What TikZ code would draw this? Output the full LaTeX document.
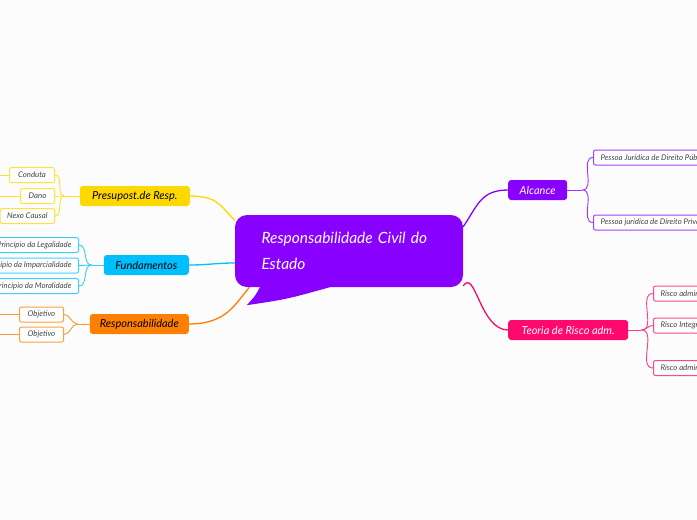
\documentclass[tikz,border=0pt]{standalone}
\usepackage{fontspec}
\setmainfont{Lato}
\usepackage{xcolor}
\usetikzlibrary{positioning}

\definecolor{cpurple}{HTML}{8800FF}
\definecolor{cyellow}{HTML}{FFD800}
\definecolor{cblue}{HTML}{00BFFF}
\definecolor{corange}{HTML}{FF7F00}
\definecolor{cpink}{HTML}{FF0A6C}
\definecolor{leaftext}{HTML}{444444}

\tikzset{every node/.style={font=\itshape}}

\begin{document}
\begin{tikzpicture}[
x=1pt, y=-1pt,
branch/.style={
fill=#1,
rounded corners=3pt,
minimum height=20pt,
inner sep=2pt,
font=\fontsize{11}{13}\selectfont\itshape
},
leaf/.style={
draw=#1!75,
fill=white,
line width=1pt,
rounded corners=2pt,
minimum height=15pt,
inner xsep=7pt,
inner ysep=1pt,
text=leaftext,
font=\fontsize{7.8}{9}\selectfont\itshape
},
link/.style={#1, line width=1.3pt},
twig/.style={#1!80, line width=0.9pt}
]

\useasboundingbox (0,0) rectangle (697,520);
\fill[white!99!black] (0,0) rectangle (697,520);
\clip (0,0) rectangle (697,520);

% central topic
\node[fill=cpurple, rounded corners=12pt, minimum width=228pt, minimum height=72pt,
text width=175pt, align=left, text=white, font=\fontsize{15.5}{26}\selectfont\itshape]
(central) at (349,251) {Responsabilidade Civil do\\Estado};
\fill[cpurple] ([xshift=25pt]central.south west)
.. controls +(-4,8) .. ([xshift=12pt,yshift=-18pt]central.south west)
.. controls +(40,-6) .. ([xshift=95pt]central.south west) -- cycle;

% left branches
\node[branch=cyellow, minimum width=110pt, anchor=east] (presup) at (190,196) {Presupost.de Resp.};
\node[branch=cblue, minimum width=85pt, anchor=east] (fund) at (189,265) {Fundamentos};
\node[branch=corange, minimum width=99pt, anchor=east] (resp) at (189,324) {Responsabilidade};

% right branches
\node[branch=cpurple, text=white, minimum width=59pt, anchor=west] (alc) at (508,190) {Alcance};
\node[branch=cpink, text=white, minimum width=120pt, anchor=west] (teoria) at (508,330) {Teoria de Risco adm.};

\draw[link=cyellow] (presup.east) .. controls +(28,0) and +(-14,-14) .. (central.165);
\draw[link=cblue] (fund.east) .. controls +(20,0) and +(-20,0) .. (central.186);
\draw[link=corange] (resp.east) .. controls +(38,0) and +(-14,16) .. (central.200);
\draw[link=cpurple] (alc.west) .. controls +(-28,0) and +(14,-20) .. (central.12);
\draw[link=cpink] (teoria.west) .. controls +(-28,0) and +(12,-18) .. (central.343);

% leaves of Presupost.de Resp.
\node[leaf=cyellow, minimum width=45pt, anchor=east] (conduta) at (55,175) {Conduta};
\node[leaf=cyellow, minimum width=34pt, anchor=east] (dano) at (55,196) {Dano};
\node[leaf=cyellow, anchor=east] (nexo) at (55,216) {Nexo Causal};
\coordinate (presupJ) at ([xshift=-15pt]presup.west);
\draw[twig=cyellow] (presup.west) -- (presupJ);
\foreach \n in {conduta,dano,nexo}
\draw[twig=cyellow] (presupJ) to[out=180,in=0] (\n.east);
\coordinate (condutaS) at (-5,175);
\coordinate (danoS) at (-5,196);
\draw[twig=cyellow] (conduta.west) -- (condutaS);
\draw[twig=cyellow] (dano.west) -- (danoS);

% leaves of Fundamentos
\node[leaf=cblue, anchor=east] (legal) at (79,245) {Princípio da Legalidade};
\node[leaf=cblue, anchor=east] (impar) at (79,265.5) {Princípio da Imparcialidade};
\node[leaf=cblue, anchor=east] (moral) at (79,286) {Princípio da Moralidade};
\coordinate (fundJ) at ([xshift=-12pt]fund.west);
\draw[twig=cblue] (fund.west) -- (fundJ);
\foreach \n in {legal,impar,moral}
\draw[twig=cblue] (fundJ) to[out=180,in=0] (\n.east);

% leaves of Responsabilidade
\node[leaf=corange, minimum width=44pt, anchor=east] (obja) at (64,314.5) {Objetivo};
\node[leaf=corange, minimum width=44pt, anchor=east] (objb) at (64,334.5) {Objetivo};
\coordinate (respJ) at ([xshift=-12pt]resp.west);
\draw[twig=corange] (resp.west) -- (respJ);
\foreach \n in {obja,objb}
\draw[twig=corange] (respJ) to[out=180,in=0] (\n.east);
\coordinate (objaS) at (-5,314.5);
\coordinate (objbS) at (-5,334.5);
\draw[twig=corange] (obja.west) -- (objaS);
\draw[twig=corange] (objb.west) -- (objbS);

% leaves of Alcance
\node[leaf=cpurple, anchor=west] (pub) at (593,157.5) {Pessoa Jurídica de Direito Público};
\node[leaf=cpurple, anchor=west] (pri) at (593,222.5) {Pessoa jurídica de Direito Privado};
\coordinate (alcJ) at ([xshift=15pt]alc.east);
\draw[twig=cpurple] (alc.east) -- (alcJ);
\foreach \n in {pub,pri}
\draw[twig=cpurple] (alcJ) to[out=0,in=180] (\n.west);

% leaves of Teoria de Risco adm.
\node[leaf=cpink, anchor=west] (riscoa) at (653,293.5) {Risco administrativo};
\node[leaf=cpink, anchor=west] (riscob) at (653,325.5) {Risco Integral};
\node[leaf=cpink, anchor=west] (riscoc) at (653,368) {Risco administrativo};
\coordinate (teoriaJ) at ([xshift=13pt]teoria.east);
\draw[twig=cpink] (teoria.east) -- (teoriaJ);
\foreach \n in {riscoa,riscob,riscoc}
\draw[twig=cpink] (teoriaJ) to[out=0,in=180] (\n.west);

\end{tikzpicture}
\end{document}
